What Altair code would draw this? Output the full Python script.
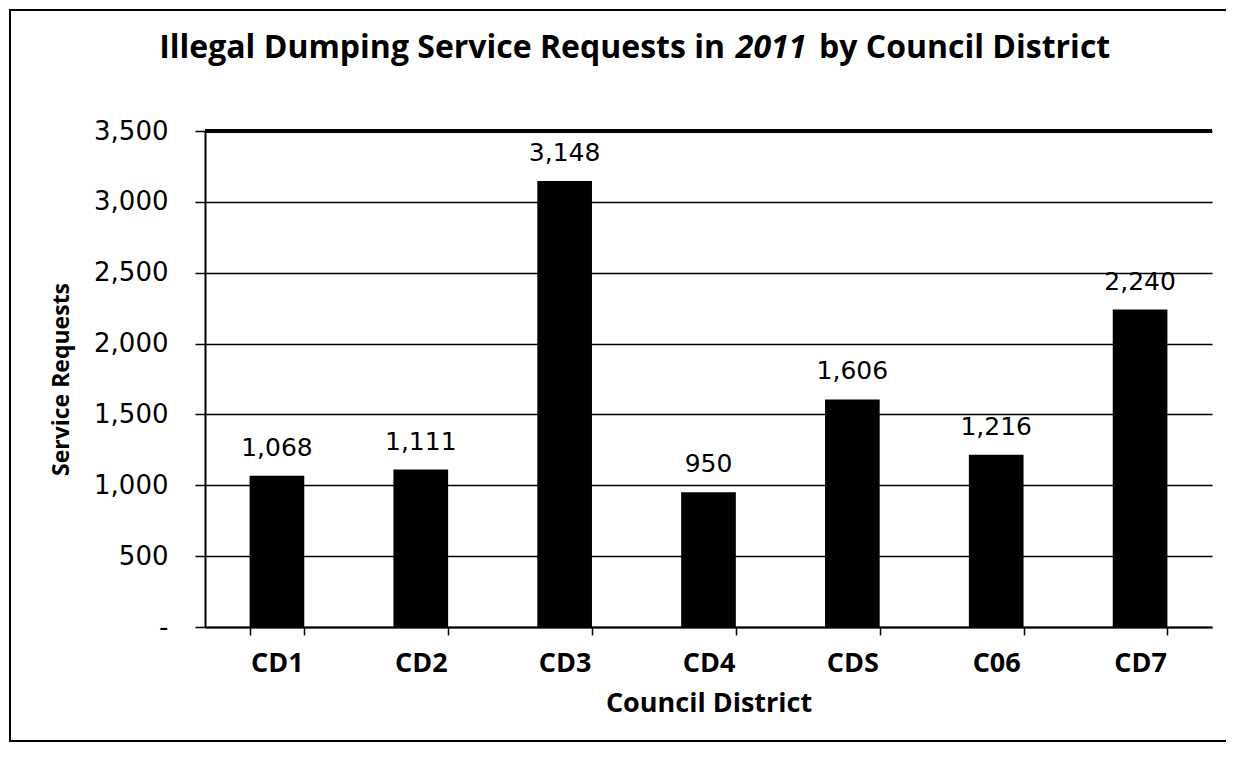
import altair as alt
import pandas as pd

districts = ["CD1", "CD2", "CD3", "CD4", "CDS", "C06", "CD7"]
requests = [1068, 1111, 3148, 950, 1606, 1216, 2240]
y_ticks = [0, 500, 1000, 1500, 2000, 2500, 3000, 3500]
title_parts = ["Illegal Dumping Service Requests in", "2011", "by Council District"]

df = pd.DataFrame({"district": districts, "requests": requests})
one = pd.DataFrame({"k": [0]})

W, H = 1007, 496
NB = "\u00a0"

x_enc = alt.X(
    "district:N",
    sort=districts,
    scale=alt.Scale(paddingInner=0.62, paddingOuter=0.31),
    axis=alt.Axis(
        title="Council District",
        labelAngle=0,
        labelFont="Open Sans",
        labelFontWeight="bold",
        labelFontSize=27,
        labelColor="black",
        labelPadding=15,
        tickBand="extent",
        tickSize=8,
        tickColor="black",
        tickWidth=1.5,
        domainColor="black",
        domainWidth=2,
        titleFont="Open Sans",
        titleFontWeight="bold",
        titleFontSize=27,
        titleColor="black",
        titleBaseline="alphabetic",
        titleY=84,
        grid=False,
    ),
)

y_enc = alt.Y(
    "requests:Q",
    scale=alt.Scale(domain=[0, 3500], nice=False),
    axis=alt.Axis(
        title="Service Requests",
        values=y_ticks,
        labelExpr=f"datum.value == 0 ? '-{NB}{NB}{NB}' : format(datum.value, ',')",
        labelFont="DejaVu Sans",
        labelFontSize=26,
        labelColor="black",
        labelPadding=27,
        tickSize=10,
        tickColor="black",
        tickWidth=1.5,
        domainColor="black",
        domainWidth=2,
        grid=True,
        gridColor="black",
        gridWidth=1.5,
        titleFont="Open Sans",
        titleFontWeight="bold",
        titleFontSize=23,
        titleColor="black",
        titleBaseline="alphabetic",
        titleX=-137,
        titleY=H / 2,
    ),
)

bars = alt.Chart(df).mark_bar(color="black").encode(x=x_enc, y=y_enc)

labels = alt.Chart(df).mark_text(
    font="DejaVu Sans", fontSize=25, color="black", baseline="alphabetic", dy=-20
).encode(
    x=alt.X("district:N", sort=districts),
    y=alt.Y("requests:Q"),
    text=alt.Text("requests:Q", format=","),
)

top_line = alt.Chart(df).mark_rule(color="black", strokeWidth=3).encode(
    x=alt.value(0), x2=alt.value(W), y=alt.value(0)
)

frame = alt.Chart(one).mark_rect(fill=None, stroke="black", strokeWidth=2).encode(
    x=alt.value(-195), x2=alt.value(1022), y=alt.value(-121), y2=alt.value(610)
)

tstyle = dict(font="Open Sans", fontWeight="bold", fontSize=32, color="black", baseline="alphabetic")
t1 = alt.Chart(one).mark_text(align="right", text=title_parts[0], **tstyle).encode(
    x=alt.value(520), y=alt.value(-73)
)
t2 = alt.Chart(one).mark_text(align="center", fontStyle="italic", text=title_parts[1], **tstyle).encode(
    x=alt.value(566), y=alt.value(-73)
)
t3 = alt.Chart(one).mark_text(align="left", text=title_parts[2], **tstyle).encode(
    x=alt.value(614), y=alt.value(-73)
)

chart = (
    alt.layer(frame, bars, labels, top_line, t1, t2, t3)
    .properties(
        width=W,
        height=H,
        padding={"left": 197, "top": 123, "right": 14, "bottom": 118},
        autosize=alt.AutoSizeParams(type="none"),
        background="white",
    )
    .configure_view(stroke=None)
)

chart.save("out.html", embed_options={"renderer": "svg", "actions": False})
